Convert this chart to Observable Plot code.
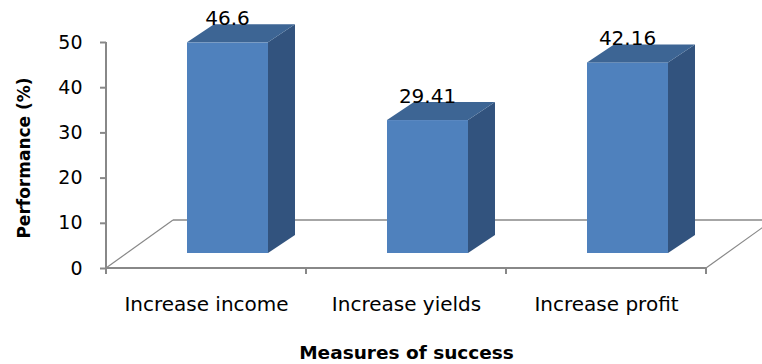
<!DOCTYPE html>
<html><head><meta charset="utf-8">
<script src="https://cdn.jsdelivr.net/npm/d3@7"></script>
<script src="https://cdn.jsdelivr.net/npm/@observablehq/plot@0.6"></script>
<style>body{margin:0;background:#fff} svg{display:block}</style>
</head><body><div id="chart"></div>
<script>
const categories = ["Increase income", "Increase yields", "Increase profit"];
const values = [46.6, 29.41, 42.16];
const valueLabels = ["46.6", "29.41", "42.16"];
const yTicks = [0, 10, 20, 30, 40, 50];
const xTitle = "Measures of success";
const yTitle = "Performance (%)";

const data = categories.map((c, i) => ({category: c, value: values[i], label: valueLabels[i]}));

// 3-D look (pixel offsets of the projection)
const FLOOR = {dx: 67, dy: -48};
const BAR_OFF = {dx: 21, dy: -15};
const BAR_DEPTH = {dx: 27, dy: -18};
const INSET_L = 60, INSET_R = 59;
const COL = {front: "#4F81BD", top: "#3D6594", side: "#32537E", axis: "#888888"};
const NS = "http://www.w3.org/2000/svg";

function el(tag, attrs) {
  const e = document.createElementNS(NS, tag);
  for (const k in attrs) e.setAttribute(k, attrs[k]);
  return e;
}

function floor(index, scales) {
  const {x, y} = scales;
  const bw = x(categories[1]) - x(categories[0]);
  const x0 = x(categories[0]), x1 = x(categories[categories.length - 1]) + bw;
  const y0 = y(0), yTop = y(yTicks[yTicks.length - 1]);
  const g = el("g", {"aria-label": "floor"});
  const ln = (a, b, c, d, w) => g.appendChild(el("line", {x1: a, y1: b, x2: c, y2: d, stroke: COL.axis, "stroke-width": w}));
  // back floor edge and side edges
  ln(x0 + FLOOR.dx, y0 + FLOOR.dy, x1 + FLOOR.dx, y0 + FLOOR.dy, 1.5);
  ln(x0, y0, x0 + FLOOR.dx, y0 + FLOOR.dy, 1.2);
  ln(x1, y0, x1 + FLOOR.dx, y0 + FLOOR.dy, 1.2);
  // axes
  ln(x0, y0, x1, y0, 2);
  ln(x0, y0 + 1, x0, yTop, 2);
  // category boundary ticks
  for (let i = 0; i <= categories.length; i++) {
    const xi = x0 + i * bw;
    ln(xi, y0, xi, y0 + 6, 2);
  }
  return g;
}

function faces(index, scales) {
  const {x, y} = scales;
  const bw = x(categories[1]) - x(categories[0]);
  const g = el("g", {"aria-label": "bar-sides"});
  data.forEach(d => {
    const xl = x(d.category) + INSET_L + BAR_OFF.dx;
    const xr = x(d.category) + bw - INSET_R + BAR_OFF.dx;
    const yt = y(d.value) + BAR_OFF.dy;
    const yb = y(0) + BAR_OFF.dy;
    const p = pts => pts.map(q => q.join(",")).join(" ");
    g.appendChild(el("polygon", {fill: COL.side, points: p([[xr, yt], [xr + BAR_DEPTH.dx, yt + BAR_DEPTH.dy], [xr + BAR_DEPTH.dx, yb + BAR_DEPTH.dy], [xr, yb]])}));
    g.appendChild(el("polygon", {fill: COL.top, points: p([[xl, yt], [xl + BAR_DEPTH.dx, yt + BAR_DEPTH.dy], [xr + BAR_DEPTH.dx, yt + BAR_DEPTH.dy], [xr, yt]])}));
  });
  return g;
}

const plot = Plot.plot({
  width: 762,
  height: 364,
  marginLeft: 106,
  marginRight: 56,
  marginTop: 42,
  marginBottom: 96,
  style: {fontFamily: "DejaVu Sans", fontSize: "19px", color: "#000", background: "#fff"},
  x: {type: "band", domain: categories, padding: 0, label: null},
  y: {domain: [0, 50], label: null},
  marks: [
    floor,
    Plot.axisY({ticks: yTicks, tickSize: 6, tickPadding: 18, stroke: COL.axis, strokeWidth: 2, fill: "#000", fontSize: 19, label: null}),
    Plot.axisX({tickSize: 0, tickPadding: 28, fill: "#000", fontSize: 20, label: null}),
    Plot.barY(data, {x: "category", y: "value", fill: COL.front, insetLeft: INSET_L, insetRight: INSET_R, dx: BAR_OFF.dx, dy: BAR_OFF.dy}),
    faces,
    Plot.text(data, {x: "category", y: "value", text: "label", dx: BAR_OFF.dx, dy: -39, fontSize: 20, fill: "#000"}),
    Plot.text([yTitle], {frameAnchor: "left", text: d => d, rotate: -90, textAnchor: "middle", lineAnchor: "middle", dx: -82, dy: 2.5, fontSize: 17, fontWeight: "bold", fill: "#000"}),
    Plot.text([xTitle], {frameAnchor: "bottom", text: d => d, textAnchor: "middle", lineAnchor: "middle", dy: 84.5, fontSize: 18.5, fontWeight: "bold", fill: "#000"})
  ]
});
document.getElementById("chart").appendChild(plot);
</script>
</body></html>
